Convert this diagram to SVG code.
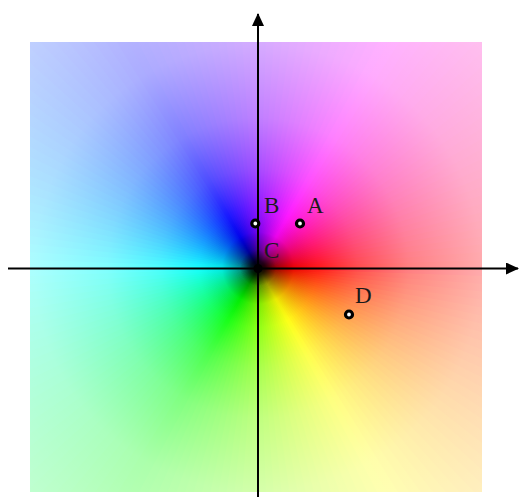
<svg xmlns="http://www.w3.org/2000/svg" xmlns:xlink="http://www.w3.org/1999/xlink" width="519" height="497" viewBox="0 0 519 497">
<style>
.lbl{font-family:"Liberation Serif","Times New Roman",serif;font-size:23px;fill:#1a1a1a}
.pt{fill:#fff;stroke:#000;stroke-width:3.2}
.ax{stroke:#000;stroke-width:2;fill:none}
</style>
<defs>
<clipPath id="sq"><rect x="30" y="42" width="452" height="450"/></clipPath>
<path id="w" d="M0,0 L330,0 A330,330 0 0,1 329.2,23.02 Z"/>
<radialGradient id="dark" gradientUnits="userSpaceOnUse" cx="258" cy="268" r="60">
<stop offset="0" stop-color="#000" stop-opacity="1"/>
<stop offset="0.12" stop-color="#000" stop-opacity="0.85"/>
<stop offset="0.3" stop-color="#000" stop-opacity="0.4"/>
<stop offset="0.6" stop-color="#000" stop-opacity="0.08"/>
<stop offset="1" stop-color="#000" stop-opacity="0"/>
</radialGradient>
<radialGradient id="light" gradientUnits="userSpaceOnUse" cx="258" cy="268" r="320">
<stop offset="0" stop-color="#fff" stop-opacity="0"/>
<stop offset="0.1" stop-color="#fff" stop-opacity="0"/>
<stop offset="0.19" stop-color="#fff" stop-opacity="0.1"/>
<stop offset="0.31" stop-color="#fff" stop-opacity="0.3"/>
<stop offset="0.47" stop-color="#fff" stop-opacity="0.5"/>
<stop offset="0.7" stop-color="#fff" stop-opacity="0.67"/>
<stop offset="1" stop-color="#fff" stop-opacity="0.75"/>
</radialGradient>
<marker id="arr" markerUnits="userSpaceOnUse" markerWidth="14" markerHeight="12" refX="12" refY="6" orient="auto">
<path d="M0,0 L13,6 L0,12 Z" fill="#000"/>
</marker>
</defs>
<g id="plane" clip-path="url(#sq)">
<rect x="30" y="42" width="452" height="450" fill="#000"/>
<g transform="translate(258,268)">
<use href="#w" transform="rotate(0)" fill="hsl(1,100%,50%)"/><use href="#w" transform="rotate(2)" fill="hsl(3,100%,50%)"/><use href="#w" transform="rotate(4)" fill="hsl(5,100%,50%)"/><use href="#w" transform="rotate(6)" fill="hsl(7,100%,50%)"/><use href="#w" transform="rotate(8)" fill="hsl(9,100%,50%)"/><use href="#w" transform="rotate(10)" fill="hsl(11,100%,50%)"/><use href="#w" transform="rotate(12)" fill="hsl(13,100%,50%)"/><use href="#w" transform="rotate(14)" fill="hsl(15,100%,50%)"/><use href="#w" transform="rotate(16)" fill="hsl(17,100%,50%)"/><use href="#w" transform="rotate(18)" fill="hsl(19,100%,50%)"/>
<use href="#w" transform="rotate(20)" fill="hsl(21,100%,50%)"/><use href="#w" transform="rotate(22)" fill="hsl(23,100%,50%)"/><use href="#w" transform="rotate(24)" fill="hsl(25,100%,50%)"/><use href="#w" transform="rotate(26)" fill="hsl(27,100%,50%)"/><use href="#w" transform="rotate(28)" fill="hsl(29,100%,50%)"/><use href="#w" transform="rotate(30)" fill="hsl(31,100%,50%)"/><use href="#w" transform="rotate(32)" fill="hsl(33,100%,50%)"/><use href="#w" transform="rotate(34)" fill="hsl(35,100%,50%)"/><use href="#w" transform="rotate(36)" fill="hsl(37,100%,50%)"/><use href="#w" transform="rotate(38)" fill="hsl(39,100%,50%)"/>
<use href="#w" transform="rotate(40)" fill="hsl(41,100%,50%)"/><use href="#w" transform="rotate(42)" fill="hsl(43,100%,50%)"/><use href="#w" transform="rotate(44)" fill="hsl(45,100%,50%)"/><use href="#w" transform="rotate(46)" fill="hsl(47,100%,50%)"/><use href="#w" transform="rotate(48)" fill="hsl(49,100%,50%)"/><use href="#w" transform="rotate(50)" fill="hsl(51,100%,50%)"/><use href="#w" transform="rotate(52)" fill="hsl(53,100%,50%)"/><use href="#w" transform="rotate(54)" fill="hsl(55,100%,50%)"/><use href="#w" transform="rotate(56)" fill="hsl(57,100%,50%)"/><use href="#w" transform="rotate(58)" fill="hsl(59,100%,50%)"/>
<use href="#w" transform="rotate(60)" fill="hsl(61,100%,50%)"/><use href="#w" transform="rotate(62)" fill="hsl(63,100%,50%)"/><use href="#w" transform="rotate(64)" fill="hsl(65,100%,50%)"/><use href="#w" transform="rotate(66)" fill="hsl(67,100%,50%)"/><use href="#w" transform="rotate(68)" fill="hsl(69,100%,50%)"/><use href="#w" transform="rotate(70)" fill="hsl(71,100%,50%)"/><use href="#w" transform="rotate(72)" fill="hsl(73,100%,50%)"/><use href="#w" transform="rotate(74)" fill="hsl(75,100%,50%)"/><use href="#w" transform="rotate(76)" fill="hsl(77,100%,50%)"/><use href="#w" transform="rotate(78)" fill="hsl(79,100%,50%)"/>
<use href="#w" transform="rotate(80)" fill="hsl(81,100%,50%)"/><use href="#w" transform="rotate(82)" fill="hsl(83,100%,50%)"/><use href="#w" transform="rotate(84)" fill="hsl(85,100%,50%)"/><use href="#w" transform="rotate(86)" fill="hsl(87,100%,50%)"/><use href="#w" transform="rotate(88)" fill="hsl(89,100%,50%)"/><use href="#w" transform="rotate(90)" fill="hsl(91,100%,50%)"/><use href="#w" transform="rotate(92)" fill="hsl(93,100%,50%)"/><use href="#w" transform="rotate(94)" fill="hsl(95,100%,50%)"/><use href="#w" transform="rotate(96)" fill="hsl(97,100%,50%)"/><use href="#w" transform="rotate(98)" fill="hsl(99,100%,50%)"/>
<use href="#w" transform="rotate(100)" fill="hsl(101,100%,50%)"/><use href="#w" transform="rotate(102)" fill="hsl(103,100%,50%)"/><use href="#w" transform="rotate(104)" fill="hsl(105,100%,50%)"/><use href="#w" transform="rotate(106)" fill="hsl(107,100%,50%)"/><use href="#w" transform="rotate(108)" fill="hsl(109,100%,50%)"/><use href="#w" transform="rotate(110)" fill="hsl(111,100%,50%)"/><use href="#w" transform="rotate(112)" fill="hsl(113,100%,50%)"/><use href="#w" transform="rotate(114)" fill="hsl(115,100%,50%)"/><use href="#w" transform="rotate(116)" fill="hsl(117,100%,50%)"/><use href="#w" transform="rotate(118)" fill="hsl(119,100%,50%)"/>
<use href="#w" transform="rotate(120)" fill="hsl(121,100%,50%)"/><use href="#w" transform="rotate(122)" fill="hsl(123,100%,50%)"/><use href="#w" transform="rotate(124)" fill="hsl(125,100%,50%)"/><use href="#w" transform="rotate(126)" fill="hsl(127,100%,50%)"/><use href="#w" transform="rotate(128)" fill="hsl(129,100%,50%)"/><use href="#w" transform="rotate(130)" fill="hsl(131,100%,50%)"/><use href="#w" transform="rotate(132)" fill="hsl(133,100%,50%)"/><use href="#w" transform="rotate(134)" fill="hsl(135,100%,50%)"/><use href="#w" transform="rotate(136)" fill="hsl(137,100%,50%)"/><use href="#w" transform="rotate(138)" fill="hsl(139,100%,50%)"/>
<use href="#w" transform="rotate(140)" fill="hsl(141,100%,50%)"/><use href="#w" transform="rotate(142)" fill="hsl(143,100%,50%)"/><use href="#w" transform="rotate(144)" fill="hsl(145,100%,50%)"/><use href="#w" transform="rotate(146)" fill="hsl(147,100%,50%)"/><use href="#w" transform="rotate(148)" fill="hsl(149,100%,50%)"/><use href="#w" transform="rotate(150)" fill="hsl(151,100%,50%)"/><use href="#w" transform="rotate(152)" fill="hsl(153,100%,50%)"/><use href="#w" transform="rotate(154)" fill="hsl(155,100%,50%)"/><use href="#w" transform="rotate(156)" fill="hsl(157,100%,50%)"/><use href="#w" transform="rotate(158)" fill="hsl(159,100%,50%)"/>
<use href="#w" transform="rotate(160)" fill="hsl(161,100%,50%)"/><use href="#w" transform="rotate(162)" fill="hsl(163,100%,50%)"/><use href="#w" transform="rotate(164)" fill="hsl(165,100%,50%)"/><use href="#w" transform="rotate(166)" fill="hsl(167,100%,50%)"/><use href="#w" transform="rotate(168)" fill="hsl(169,100%,50%)"/><use href="#w" transform="rotate(170)" fill="hsl(171,100%,50%)"/><use href="#w" transform="rotate(172)" fill="hsl(173,100%,50%)"/><use href="#w" transform="rotate(174)" fill="hsl(175,100%,50%)"/><use href="#w" transform="rotate(176)" fill="hsl(177,100%,50%)"/><use href="#w" transform="rotate(178)" fill="hsl(179,100%,50%)"/>
<use href="#w" transform="rotate(180)" fill="hsl(181,100%,50%)"/><use href="#w" transform="rotate(182)" fill="hsl(183,100%,50%)"/><use href="#w" transform="rotate(184)" fill="hsl(185,100%,50%)"/><use href="#w" transform="rotate(186)" fill="hsl(187,100%,50%)"/><use href="#w" transform="rotate(188)" fill="hsl(189,100%,50%)"/><use href="#w" transform="rotate(190)" fill="hsl(191,100%,50%)"/><use href="#w" transform="rotate(192)" fill="hsl(193,100%,50%)"/><use href="#w" transform="rotate(194)" fill="hsl(195,100%,50%)"/><use href="#w" transform="rotate(196)" fill="hsl(197,100%,50%)"/><use href="#w" transform="rotate(198)" fill="hsl(199,100%,50%)"/>
<use href="#w" transform="rotate(200)" fill="hsl(201,100%,50%)"/><use href="#w" transform="rotate(202)" fill="hsl(203,100%,50%)"/><use href="#w" transform="rotate(204)" fill="hsl(205,100%,50%)"/><use href="#w" transform="rotate(206)" fill="hsl(207,100%,50%)"/><use href="#w" transform="rotate(208)" fill="hsl(209,100%,50%)"/><use href="#w" transform="rotate(210)" fill="hsl(211,100%,50%)"/><use href="#w" transform="rotate(212)" fill="hsl(213,100%,50%)"/><use href="#w" transform="rotate(214)" fill="hsl(215,100%,50%)"/><use href="#w" transform="rotate(216)" fill="hsl(217,100%,50%)"/><use href="#w" transform="rotate(218)" fill="hsl(219,100%,50%)"/>
<use href="#w" transform="rotate(220)" fill="hsl(221,100%,50%)"/><use href="#w" transform="rotate(222)" fill="hsl(223,100%,50%)"/><use href="#w" transform="rotate(224)" fill="hsl(225,100%,50%)"/><use href="#w" transform="rotate(226)" fill="hsl(227,100%,50%)"/><use href="#w" transform="rotate(228)" fill="hsl(229,100%,50%)"/><use href="#w" transform="rotate(230)" fill="hsl(231,100%,50%)"/><use href="#w" transform="rotate(232)" fill="hsl(233,100%,50%)"/><use href="#w" transform="rotate(234)" fill="hsl(235,100%,50%)"/><use href="#w" transform="rotate(236)" fill="hsl(237,100%,50%)"/><use href="#w" transform="rotate(238)" fill="hsl(239,100%,50%)"/>
<use href="#w" transform="rotate(240)" fill="hsl(241,100%,50%)"/><use href="#w" transform="rotate(242)" fill="hsl(243,100%,50%)"/><use href="#w" transform="rotate(244)" fill="hsl(245,100%,50%)"/><use href="#w" transform="rotate(246)" fill="hsl(247,100%,50%)"/><use href="#w" transform="rotate(248)" fill="hsl(249,100%,50%)"/><use href="#w" transform="rotate(250)" fill="hsl(251,100%,50%)"/><use href="#w" transform="rotate(252)" fill="hsl(253,100%,50%)"/><use href="#w" transform="rotate(254)" fill="hsl(255,100%,50%)"/><use href="#w" transform="rotate(256)" fill="hsl(257,100%,50%)"/><use href="#w" transform="rotate(258)" fill="hsl(259,100%,50%)"/>
<use href="#w" transform="rotate(260)" fill="hsl(261,100%,50%)"/><use href="#w" transform="rotate(262)" fill="hsl(263,100%,50%)"/><use href="#w" transform="rotate(264)" fill="hsl(265,100%,50%)"/><use href="#w" transform="rotate(266)" fill="hsl(267,100%,50%)"/><use href="#w" transform="rotate(268)" fill="hsl(269,100%,50%)"/><use href="#w" transform="rotate(270)" fill="hsl(271,100%,50%)"/><use href="#w" transform="rotate(272)" fill="hsl(273,100%,50%)"/><use href="#w" transform="rotate(274)" fill="hsl(275,100%,50%)"/><use href="#w" transform="rotate(276)" fill="hsl(277,100%,50%)"/><use href="#w" transform="rotate(278)" fill="hsl(279,100%,50%)"/>
<use href="#w" transform="rotate(280)" fill="hsl(281,100%,50%)"/><use href="#w" transform="rotate(282)" fill="hsl(283,100%,50%)"/><use href="#w" transform="rotate(284)" fill="hsl(285,100%,50%)"/><use href="#w" transform="rotate(286)" fill="hsl(287,100%,50%)"/><use href="#w" transform="rotate(288)" fill="hsl(289,100%,50%)"/><use href="#w" transform="rotate(290)" fill="hsl(291,100%,50%)"/><use href="#w" transform="rotate(292)" fill="hsl(293,100%,50%)"/><use href="#w" transform="rotate(294)" fill="hsl(295,100%,50%)"/><use href="#w" transform="rotate(296)" fill="hsl(297,100%,50%)"/><use href="#w" transform="rotate(298)" fill="hsl(299,100%,50%)"/>
<use href="#w" transform="rotate(300)" fill="hsl(301,100%,50%)"/><use href="#w" transform="rotate(302)" fill="hsl(303,100%,50%)"/><use href="#w" transform="rotate(304)" fill="hsl(305,100%,50%)"/><use href="#w" transform="rotate(306)" fill="hsl(307,100%,50%)"/><use href="#w" transform="rotate(308)" fill="hsl(309,100%,50%)"/><use href="#w" transform="rotate(310)" fill="hsl(311,100%,50%)"/><use href="#w" transform="rotate(312)" fill="hsl(313,100%,50%)"/><use href="#w" transform="rotate(314)" fill="hsl(315,100%,50%)"/><use href="#w" transform="rotate(316)" fill="hsl(317,100%,50%)"/><use href="#w" transform="rotate(318)" fill="hsl(319,100%,50%)"/>
<use href="#w" transform="rotate(320)" fill="hsl(321,100%,50%)"/><use href="#w" transform="rotate(322)" fill="hsl(323,100%,50%)"/><use href="#w" transform="rotate(324)" fill="hsl(325,100%,50%)"/><use href="#w" transform="rotate(326)" fill="hsl(327,100%,50%)"/><use href="#w" transform="rotate(328)" fill="hsl(329,100%,50%)"/><use href="#w" transform="rotate(330)" fill="hsl(331,100%,50%)"/><use href="#w" transform="rotate(332)" fill="hsl(333,100%,50%)"/><use href="#w" transform="rotate(334)" fill="hsl(335,100%,50%)"/><use href="#w" transform="rotate(336)" fill="hsl(337,100%,50%)"/><use href="#w" transform="rotate(338)" fill="hsl(339,100%,50%)"/>
<use href="#w" transform="rotate(340)" fill="hsl(341,100%,50%)"/><use href="#w" transform="rotate(342)" fill="hsl(343,100%,50%)"/><use href="#w" transform="rotate(344)" fill="hsl(345,100%,50%)"/><use href="#w" transform="rotate(346)" fill="hsl(347,100%,50%)"/><use href="#w" transform="rotate(348)" fill="hsl(349,100%,50%)"/><use href="#w" transform="rotate(350)" fill="hsl(351,100%,50%)"/><use href="#w" transform="rotate(352)" fill="hsl(353,100%,50%)"/><use href="#w" transform="rotate(354)" fill="hsl(355,100%,50%)"/><use href="#w" transform="rotate(356)" fill="hsl(357,100%,50%)"/><use href="#w" transform="rotate(358)" fill="hsl(359,100%,50%)"/>
</g>
<rect x="30" y="42" width="452" height="450" fill="url(#light)"/>
<rect x="30" y="42" width="452" height="450" fill="url(#dark)"/>
</g>
<g id="connectors">
<line class="ax" x1="8" y1="268.5" x2="518" y2="268.5" marker-end="url(#arr)"/>
<line class="ax" x1="258" y1="497" x2="258" y2="14" marker-end="url(#arr)"/>
</g>
<g id="node-A"><circle class="pt" cx="300" cy="223.5" r="3.5"/><text class="lbl" x="307" y="213">A</text></g>
<g id="node-B"><circle class="pt" cx="255.3" cy="223.5" r="3.5"/><text class="lbl" x="264" y="213">B</text></g>
<g id="node-C"><circle cx="258" cy="268.5" r="4.5" fill="#000"/><text class="lbl" x="264" y="258">C</text></g>
<g id="node-D"><circle class="pt" cx="349" cy="314.5" r="3.5"/><text class="lbl" x="355" y="303">D</text></g>
</svg>
